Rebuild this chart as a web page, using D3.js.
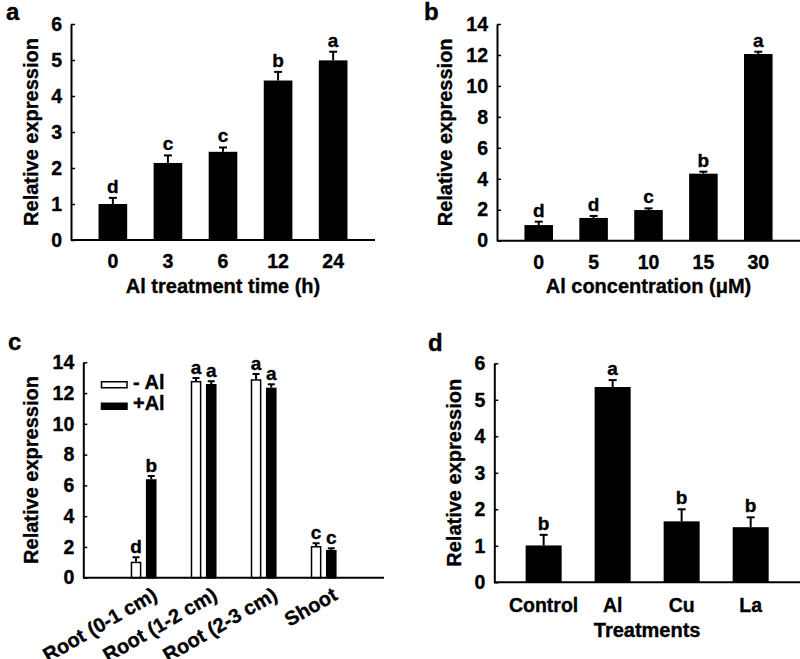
<!DOCTYPE html>
<html><head><meta charset="utf-8">
<script src="https://cdn.jsdelivr.net/npm/d3@7"></script>
<style>
body{margin:0;background:#fff;}
svg{display:block;}
text{font-family:"Liberation Sans",Arial,sans-serif;font-weight:bold;fill:#000;stroke:#000;stroke-width:0.35px;}
</style></head>
<body>
<svg id="chart" width="800" height="659"></svg>
<script>
// ---- data ----
const timeCats = ["0","3","6","12","24"];
const timeVals = [1.00, 2.14, 2.45, 4.43, 4.99];
const timeErr = [0.17, 0.21, 0.12, 0.24, 0.24];
const timeLetters = ["d","c","c","b","a"];
const timeTicks = [0,1,2,3,4,5,6];

const concCats = ["0","5","10","15","30"];
const concVals = [1.01, 1.47, 1.98, 4.33, 12.06];
const concErr = [0.22, 0.13, 0.11, 0.13, 0.15];
const concLetters = ["d","d","c","b","a"];
const concTicks = [0,2,4,6,8,10,12,14];

const tissueCats = ["Root (0-1 cm)","Root (1-2 cm)","Root (2-3 cm)","Shoot"];
const seriesNames = ["- Al","+Al"];
const minusAl = [1.04, 12.79, 12.90, 2.06];
const minusAlErr = [0.29, 0.19, 0.34, 0.18];
const minusLetters = ["d","a","a","c"];
const plusAl = [6.40, 12.59, 12.35, 1.80];
const plusAlErr = [0.21, 0.18, 0.22, 0.11];
const plusLetters = ["b","a","a","c"];
const tissueTicks = [0,2,4,6,8,10,12,14];

const treatCats = ["Control","Al","Cu","La"];
const treatVals = [1.01, 5.35, 1.67, 1.51];
const treatErr = [0.29, 0.19, 0.33, 0.27];
const treatLetters = ["b","a","b","b"];
const treatTicks = [0,1,2,3,4,5,6];

const svg = d3.select("#chart");
const TICK_FS = 19.5, TITLE_FS = 20, LETTER_FS = 19;

function yAxis(g, y, ticks, x0) {
  const ax = d3.axisLeft(y).tickValues(ticks).tickFormat(d3.format("d"))
    .tickSizeInner(-4).tickSizeOuter(0).tickPadding(9);
  const a = g.append("g").attr("transform", `translate(${x0},0)`).call(ax);
  a.select(".domain").attr("stroke", "#000").attr("stroke-width", 2);
  a.selectAll(".tick line").attr("stroke", "#000").attr("stroke-width", 1.5);
  a.selectAll(".tick text").attr("font-size", TICK_FS).attr("font-family", null).attr("fill", "#000");
  return a;
}
function xLine(g, x, yPix) {
  const r = x.range();
  g.append("line").attr("x1", r[0]).attr("x2", r[1]).attr("y1", yPix).attr("y2", yPix)
    .attr("stroke", "#000").attr("stroke-width", 2);
}
function errBar(g, cx, yTop, yErr, cap) {
  g.append("line").attr("x1", cx).attr("x2", cx).attr("y1", yTop).attr("y2", yErr)
    .attr("stroke", "#000").attr("stroke-width", 2);
  g.append("line").attr("x1", cx - cap/2).attr("x2", cx + cap/2).attr("y1", yErr).attr("y2", yErr)
    .attr("stroke", "#000").attr("stroke-width", 2);
}

function simplePanel(opts) {
  const g = svg.append("g");
  const x = d3.scaleBand().domain(opts.cats).range(opts.xr).paddingInner(opts.pi).paddingOuter(opts.po);
  const y = d3.scaleLinear().domain([0, opts.ymax]).range(opts.yr);
  const y0 = y(0);
  opts.cats.forEach((c, i) => {
    const v = opts.vals[i], e = opts.err[i];
    g.append("rect").attr("x", x(c)).attr("width", x.bandwidth())
      .attr("y", y(v)).attr("height", y0 - y(v)).attr("fill", "#000");
    const cx = x(c) + x.bandwidth()/2;
    errBar(g, cx, y(v), y(v + e), 8);
    g.append("text").attr("x", cx).attr("y", y(v + e) - 5).attr("text-anchor", "middle")
      .attr("font-size", LETTER_FS).text(opts.letters[i]);
    g.append("text").attr("x", cx).attr("y", y0 + opts.tickDy).attr("text-anchor", "middle")
      .attr("font-size", TICK_FS).text(c);
  });
  xLine(g, x, y0);
  yAxis(g, y, opts.ticks, opts.xr[0]);
  g.append("text").attr("transform", `translate(${opts.ylx},${(opts.yr[0]+opts.yr[1])/2}) rotate(-90)`)
    .attr("text-anchor", "middle").attr("dy", "0.35em").attr("font-size", TITLE_FS).text("Relative expression");
  if (opts.xlabel) {
    g.append("text").attr("x", (opts.xr[0]+opts.xr[1])/2).attr("y", opts.xly)
      .attr("text-anchor", "middle").attr("font-size", TITLE_FS).text(opts.xlabel);
  }
  g.append("text").attr("x", opts.tx).attr("y", opts.ty).attr("font-size", 24).text(opts.title);
}

// Panel a
simplePanel({cats: timeCats, vals: timeVals, err: timeErr, letters: timeLetters, ticks: timeTicks,
  xr: [71, 375], yr: [240, 24], ymax: 6, pi: 0.48, po: 0.5, tickDy: 28, ylx: 31,
  xlabel: "Al treatment time (h)", xly: 293, title: "a", tx: 6, ty: 20});
// Panel b
simplePanel({cats: concCats, vals: concVals, err: concErr, letters: concLetters, ticks: concTicks,
  xr: [497, 800], yr: [240.7, 24], ymax: 14, pi: 0.48, po: 0.5, tickDy: 28, ylx: 445,
  xlabel: "Al concentration (\u03bcM)", xly: 293, title: "b", tx: 424, ty: 20});
// Panel d
simplePanel({cats: treatCats, vals: treatVals, err: treatErr, letters: treatLetters, ticks: treatTicks,
  xr: [494.3, 800], yr: [582.3, 363.3], ymax: 6, pi: 0.478, po: 0.454, tickDy: 29.5, ylx: 454,
  xlabel: "Treatments", xly: 636.5, title: "d", tx: 428, ty: 351});

// Panel c (grouped)
(function() {
  const g = svg.append("g");
  const xr = [83.3, 384], yr = [577.7, 362.3];
  const x = d3.scaleBand().domain(tissueCats).range(xr).paddingInner(0.57).paddingOuter(0.79);
  const xs = d3.scaleBand().domain(seriesNames).range([0, x.bandwidth()]).paddingInner(0.3);
  const y = d3.scaleLinear().domain([0, 14]).range(yr);
  const y0 = y(0);
  const series = [
    {name: seriesNames[0], vals: minusAl, err: minusAlErr, letters: minusLetters, fill: "#fff"},
    {name: seriesNames[1], vals: plusAl, err: plusAlErr, letters: plusLetters, fill: "#000"}
  ];
  tissueCats.forEach((c, i) => {
    series.forEach(s => {
      const v = s.vals[i], e = s.err[i];
      const bx = x(c) + xs(s.name);
      g.append("rect").attr("x", bx + 0.75).attr("width", xs.bandwidth() - 1.5)
        .attr("y", y(v) + 0.75).attr("height", y0 - y(v) - 0.75)
        .attr("fill", s.fill).attr("stroke", "#000").attr("stroke-width", 1.5);
      const cx = bx + xs.bandwidth()/2;
      errBar(g, cx, y(v), y(v + e), 7);
      g.append("text").attr("x", cx).attr("y", y(v + e) - 4).attr("text-anchor", "middle")
        .attr("font-size", LETTER_FS).text(s.letters[i]);
    });
    const gx = x(c) + x.bandwidth()/2;
    g.append("text").attr("transform", `translate(${gx + 15},${y0 + 21}) rotate(-30)`)
      .attr("text-anchor", "end").attr("font-size", 20).text(c);
  });
  xLine(g, x, y0);
  yAxis(g, y, tissueTicks, xr[0]);
  g.append("text").attr("transform", `translate(31,${(yr[0]+yr[1])/2}) rotate(-90)`)
    .attr("text-anchor", "middle").attr("dy", "0.35em").attr("font-size", TITLE_FS).text("Relative expression");
  g.append("text").attr("x", 8).attr("y", 350).attr("font-size", 24).text("c");
  // legend
  const lg = g.append("g");
  series.forEach((s, k) => {
    const ly = 381 + k * 21.5;
    lg.append("rect").attr("x", 101.5).attr("y", ly + 0.75).attr("width", 25.5).attr("height", 6)
      .attr("fill", s.fill).attr("stroke", "#000").attr("stroke-width", 1.5);
    lg.append("text").attr("x", 133).attr("y", ly + 7.5).attr("font-size", TITLE_FS).text(s.name);
  });
})();
</script>
</body></html>
